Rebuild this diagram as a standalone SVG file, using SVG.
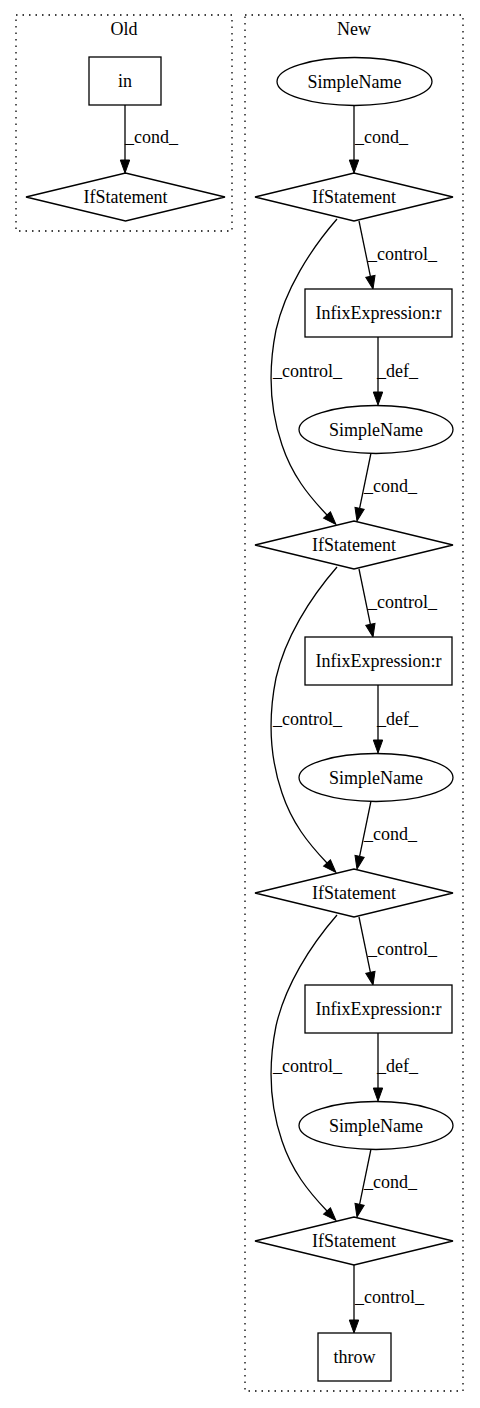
<svg xmlns="http://www.w3.org/2000/svg" width="480" height="1408" viewBox="0 0 480 1408">
<style>
text{font-family:"Liberation Serif","Times New Roman",serif;font-size:18px;fill:#000}
.c{text-anchor:middle}
.n{fill:#fff;stroke:#000;stroke-width:1.3}
.cl{fill:none;stroke:#000;stroke-width:1.3;stroke-dasharray:1.5,5}
.e{fill:none;stroke:#000;stroke-width:1.3;marker-end:url(#ah)}
</style>
<defs>
<marker id="ah" markerUnits="userSpaceOnUse" markerWidth="14" markerHeight="10" refX="0" refY="4.7" orient="auto" viewBox="0 0 14 10" overflow="visible">
<path d="M0,0 L13,4.7 L0,9.4 z" fill="#000" stroke="#000" stroke-width="1"/>
</marker>
</defs>
<rect x="0" y="0" width="480" height="1408" fill="#fff"/>
<g id="cluster_old">
<rect class="cl" x="16" y="15" width="216" height="216"/>
<text class="c" x="124" y="35">Old</text>
</g>
<g id="cluster_new">
<rect class="cl" x="245" y="15" width="218" height="1376"/>
<text class="c" x="354" y="35">New</text>
</g>
<g id="edges">
<path class="e" d="M125,105 L125,160"/>
<text x="125" y="143">_cond_</text>
<path class="e" d="M354,106 L354,160"/>
<text x="355" y="143">_cond_</text>
<path class="e" d="M359,221 L370.4,276.3"/>
<text x="368" y="260">_control_</text>
<path class="e" d="M378,337 L378,392"/>
<text x="377" y="377">_def_</text>
<path class="e" d="M371,453 L359.6,508.3"/>
<text x="364" y="492">_cond_</text>
<path class="e" d="M337,219 C310,250 285,290 276,330 C268,370 270,410 282,445 C292,475 308,495 327,515"/>
<text x="273" y="377">_control_</text>
<path class="e" d="M359,569 L370.4,624.3"/>
<text x="368" y="608">_control_</text>
<path class="e" d="M378,685 L378,740"/>
<text x="377" y="725">_def_</text>
<path class="e" d="M371,801 L359.6,856.3"/>
<text x="364" y="840">_cond_</text>
<path class="e" d="M337,567 C310,598 285,638 276,678 C268,718 270,758 282,793 C292,823 308,843 327,863"/>
<text x="273" y="725">_control_</text>
<path class="e" d="M359,917 L370.4,972.3"/>
<text x="368" y="955">_control_</text>
<path class="e" d="M378,1033 L378,1088"/>
<text x="377" y="1072">_def_</text>
<path class="e" d="M371,1149 L359.6,1204.3"/>
<text x="364" y="1188">_cond_</text>
<path class="e" d="M337,915 C310,946 285,986 276,1026 C268,1066 270,1106 282,1141 C292,1171 308,1191 327,1211"/>
<text x="273" y="1072">_control_</text>
<path class="e" d="M354,1265 L354,1320"/>
<text x="355" y="1303">_control_</text>
</g>
<g id="in"><rect class="n" x="89" y="57" width="72" height="48"/><text class="c" x="125" y="87">in</text></g>
<g id="if_old"><polygon class="n" points="26,197 125.5,173 225,197 125.5,221"/><text class="c" x="125.5" y="203">IfStatement</text></g>
<g id="sn1"><ellipse class="n" cx="354.5" cy="81.5" rx="77.5" ry="24"/><text class="c" x="354.5" y="87.5">SimpleName</text></g>
<g id="if1"><polygon class="n" points="255,197 354,173 453,197 354,221"/><text class="c" x="354" y="203">IfStatement</text></g>
<g id="infix1"><rect class="n" x="305" y="289" width="147" height="48"/><text class="c" x="378.5" y="319">InfixExpression:r</text></g>
<g id="sn2"><ellipse class="n" cx="376" cy="429.5" rx="77" ry="24"/><text class="c" x="376" y="435.5">SimpleName</text></g>
<g id="if2"><polygon class="n" points="255,545 354,521 453,545 354,569"/><text class="c" x="354" y="551">IfStatement</text></g>
<g id="infix2"><rect class="n" x="305" y="637" width="147" height="48"/><text class="c" x="378.5" y="667">InfixExpression:r</text></g>
<g id="sn3"><ellipse class="n" cx="376" cy="777.5" rx="77" ry="24"/><text class="c" x="376" y="783.5">SimpleName</text></g>
<g id="if3"><polygon class="n" points="255,893 354,869 453,893 354,917"/><text class="c" x="354" y="899">IfStatement</text></g>
<g id="infix3"><rect class="n" x="305" y="985" width="147" height="48"/><text class="c" x="378.5" y="1015">InfixExpression:r</text></g>
<g id="sn4"><ellipse class="n" cx="376" cy="1125.5" rx="77" ry="24"/><text class="c" x="376" y="1131.5">SimpleName</text></g>
<g id="if4"><polygon class="n" points="255,1241 354,1217 453,1241 354,1265"/><text class="c" x="354" y="1247">IfStatement</text></g>
<g id="throw"><rect class="n" x="318" y="1333" width="73" height="48"/><text class="c" x="354.5" y="1363">throw</text></g>
</svg>
